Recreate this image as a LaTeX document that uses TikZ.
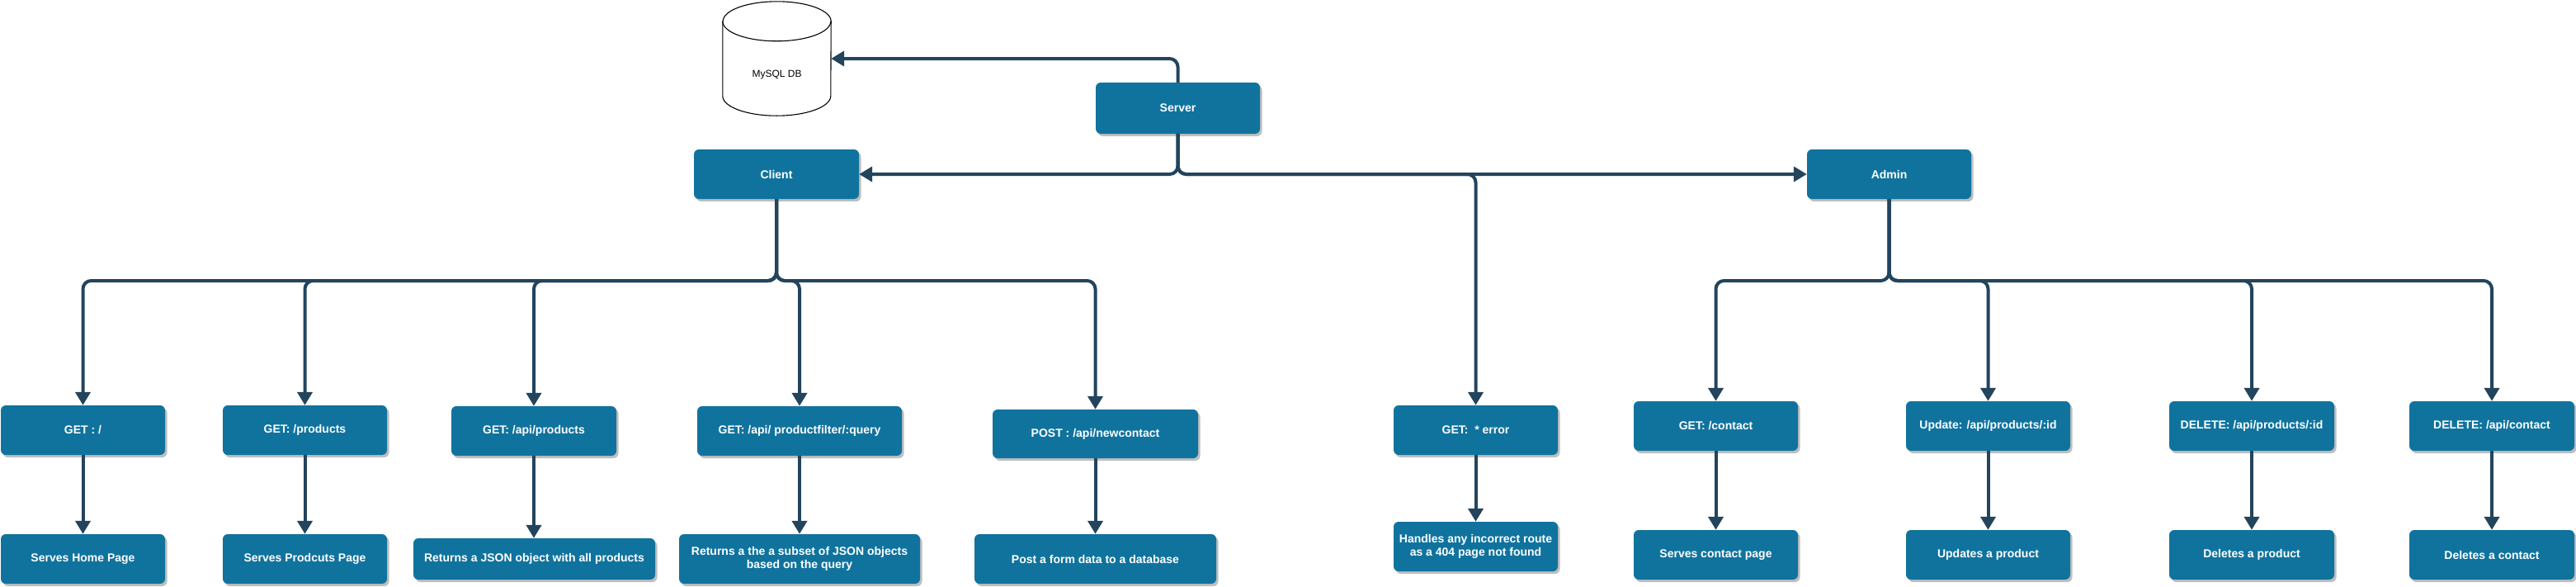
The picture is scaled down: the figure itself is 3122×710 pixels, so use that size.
\documentclass[tikz,border=0pt]{standalone}
\usepackage{fontspec}
\setmainfont{Liberation Sans}
\usetikzlibrary{arrows.meta,shadows}
\definecolor{boxblue}{HTML}{10739E}
\definecolor{edgec}{HTML}{23445D}
\tikzset{
  box/.style={rounded corners=6pt, fill=boxblue, text=white,
    font=\bfseries\fontsize{14}{16.5}\selectfont, minimum height=60pt,
    inner sep=0pt, align=center,
    drop shadow={shadow xshift=2.5pt, shadow yshift=-3pt, fill=black!25, opacity=1}},
  conn/.style={draw=edgec, line width=4pt, rounded corners=10pt,
    -{Triangle[width=18pt,length=16pt]}},
  link/.style={draw=edgec, line width=4pt},
  cyl/.style={draw=black, line width=1.1pt, fill=white},
  dbtext/.style={font=\fontsize{12}{14}\selectfont, text=black, inner sep=0pt}
}
\begin{document}
\begin{tikzpicture}[x=1pt,y=1pt]
\useasboundingbox (0,0) rectangle (3122,-710);

% database
\node[inner sep=0pt, minimum width=131pt, minimum height=138pt] (db) at (941.5,-71) {};
\draw[cyl] ([yshift=-24pt]db.north west) -- ([yshift=24pt]db.south west)
  arc[start angle=180, end angle=360, x radius=65.5pt, y radius=24pt]
  -- ([yshift=-24pt]db.north east)
  arc[start angle=0, end angle=180, x radius=65.5pt, y radius=24pt] -- cycle;
\draw[cyl, fill=none] ([yshift=-24pt]db.north west)
  arc[start angle=180, end angle=360, x radius=65.5pt, y radius=24pt];
\node[dbtext] (dblabel) at (941.5,-91) {MySQL DB};

% main nodes
\node[box, minimum width=199pt, minimum height=62pt] (server) at (1427.5,-131) {Server};
\node[box, minimum width=200pt] (client) at (941,-211) {Client};
\node[box, minimum width=199pt] (admin) at (2289.5,-211) {Admin};

% client routes
\node[box, minimum width=199pt] (a1) at (100.5,-521) {GET : /};
\node[box, minimum width=199pt] (a2) at (369.5,-521) {GET: /products};
\node[box, minimum width=200pt] (a3) at (647,-522) {GET: /api/products};
\node[box, minimum width=248pt] (a4) at (969,-522) {GET: /api/ productfilter/:query};
\node[box, minimum width=249pt, minimum height=59pt] (a5) at (1327.5,-525.5) {POST : /api/newcontact};

\node[box, minimum width=199pt] (r1) at (100.5,-677) {Serves Home Page};
\node[box, minimum width=199pt] (r2) at (369.5,-677) {Serves Prodcuts Page};
\node[box, minimum width=293pt, minimum height=50pt] (r3) at (647.5,-677) {Returns a JSON object with all products};
\node[box, minimum width=292pt] (r4) at (969,-677) {Returns a the a subset of JSON objects\\based on the query};
\node[box, minimum width=293pt] (r5) at (1327.5,-677) {Post a form data to a database};

% error route
\node[box, minimum width=199pt] (err) at (1788.5,-521) {GET:\ \ * error};
\node[box, minimum width=199pt] (rerr) at (1788.5,-662) {Handles any incorrect route\\as a 404 page not found};

% admin routes
\node[box, minimum width=199pt] (b1) at (2079.5,-516) {GET: /contact};
\node[box, minimum width=199pt] (b2) at (2409.5,-516) {Update: /api/products/:id};
\node[box, minimum width=200pt] (b3) at (2729,-516) {DELETE: /api/products/:id};
\node[box, minimum width=200pt] (b4) at (3020,-516) {DELETE: /api/contact};

\node[box, minimum width=199pt] (rb1) at (2079.5,-672) {Serves contact page};
\node[box, minimum width=199pt] (rb2) at (2409.5,-672) {Updates a product};
\node[box, minimum width=200pt] (rb3) at (2729,-672) {Deletes a product};
\node[box, minimum width=200pt] (rb4) at (3020,-672) {Deletes a contact};

\coordinate (bus) at (0,-340);

% server connectors
\draw[conn] (server.north) |- (db.east);
\draw[conn] (server.south) |- (client.east);
\draw[conn] (server.south) |- (admin.west);
\draw[conn] (server.south) |- (admin.west -| err.north) -- (err.north);

% client connectors
\foreach \t in {a1,a2,a3,a4,a5}
  \draw[conn] (client.south) -- (client.south |- bus) -| (\t.north);
% admin connectors
\foreach \t in {b1,b2,b3,b4}
  \draw[conn] (admin.south) -- (admin.south |- bus) -| (\t.north);

% route to result
\draw[conn] (a1.south) -- (r1.north);
\draw[conn] (a2.south) -- (r2.north);
\draw[conn] (a3.south) -- (a3.south |- r3.north);
\draw[conn] (a4.south) -- (r4.north);
\draw[conn] (a5.south) -- (r5.north);
\draw[conn] (err.south) -- (rerr.north);
\draw[conn] (b1.south) -- (rb1.north);
\draw[conn] (b2.south) -- (rb2.north);
\draw[conn] (b3.south) -- (rb3.north);
\draw[conn] (b4.south) -- (rb4.north);
\end{tikzpicture}
\end{document}
